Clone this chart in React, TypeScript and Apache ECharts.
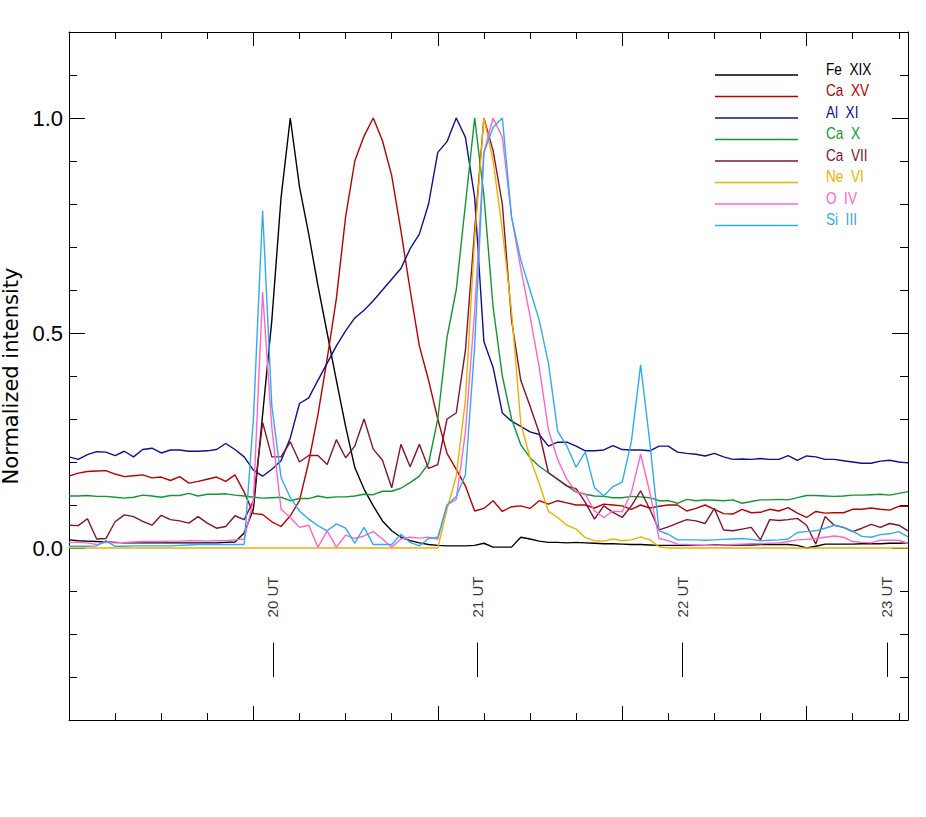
import React, { useEffect, useRef } from 'react';
import * as echarts from 'echarts';

// Sample index (time steps) along the x axis
const sampleIndex: number[] = Array.from({ length: 92 }, (_, i) => i);

const seriesNames = ['Fe XIX', 'Ca XV', 'Al XI', 'Ca X', 'Ca VII', 'Ne VI', 'O IV', 'Si III'];
const seriesColors = ['#000000', '#b80000', '#10108c', '#129632', '#82142e', '#f0b000', '#ff66cc', '#30aaf5'];

const feXIX = [0.019, 0.017, 0.016, 0.015, 0.014, 0.013, 0.012, 0.012, 0.012, 0.012, 0.012, 0.012, 0.012, 0.012, 0.012, 0.012, 0.012, 0.013, 0.014, 0.035,
  0.09, 0.31, 0.53, 0.815, 1.0, 0.84, 0.73, 0.61, 0.5, 0.39, 0.283, 0.187, 0.137, 0.098, 0.063, 0.04, 0.025, 0.017, 0.012, 0.008,
  0.006, 0.005, 0.005, 0.005, 0.006, 0.011, 0.002, 0.002, 0.002, 0.025, 0.021, 0.016, 0.013, 0.013, 0.012, 0.013, 0.012, 0.011, 0.01, 0.01,
  0.009, 0.008, 0.008, 0.007, 0.006, 0.006, 0.006, 0.006, 0.006, 0.006, 0.007, 0.007, 0.007, 0.007, 0.007, 0.008, 0.008, 0.008, 0.008, 0.006,
  0.0, 0.004, 0.009, 0.009, 0.009, 0.009, 0.01, 0.01, 0.01, 0.011, 0.011, 0.012];

const caXV = [0.167, 0.174, 0.178, 0.179, 0.18, 0.172, 0.166, 0.168, 0.17, 0.163, 0.165, 0.157, 0.166, 0.151, 0.155, 0.16, 0.165, 0.155, 0.17, 0.13,
  0.08, 0.078, 0.061, 0.05, 0.075, 0.11, 0.2, 0.31, 0.44, 0.58, 0.77, 0.9, 0.958, 1.0, 0.947, 0.866, 0.738, 0.6, 0.47, 0.39,
  0.3, 0.22, 0.183, 0.144, 0.086, 0.092, 0.11, 0.085, 0.096, 0.098, 0.092, 0.11, 0.102, 0.11, 0.105, 0.1, 0.1, 0.093, 0.102, 0.1,
  0.098, 0.09, 0.1, 0.093, 0.097, 0.1, 0.1, 0.086, 0.092, 0.1, 0.09, 0.08, 0.079, 0.09, 0.082, 0.083, 0.09, 0.086, 0.094, 0.081,
  0.071, 0.085, 0.081, 0.082, 0.082, 0.09, 0.09, 0.093, 0.09, 0.088, 0.097, 0.097];

const alXI = [0.212, 0.206, 0.217, 0.224, 0.223, 0.215, 0.225, 0.212, 0.229, 0.232, 0.221, 0.228, 0.228, 0.225, 0.225, 0.226, 0.229, 0.243, 0.229, 0.212,
  0.181, 0.167, 0.183, 0.203, 0.256, 0.336, 0.349, 0.39, 0.43, 0.47, 0.505, 0.535, 0.553, 0.575, 0.6, 0.625, 0.65, 0.696, 0.73, 0.8,
  0.92, 0.945, 1.0, 0.955, 0.815, 0.48, 0.42, 0.314, 0.295, 0.283, 0.27, 0.264, 0.237, 0.246, 0.246, 0.237, 0.226, 0.226, 0.228, 0.238,
  0.229, 0.228, 0.228, 0.226, 0.237, 0.237, 0.223, 0.22, 0.218, 0.214, 0.22, 0.212, 0.206, 0.207, 0.206, 0.208, 0.206, 0.206, 0.215, 0.204,
  0.214, 0.212, 0.206, 0.206, 0.203, 0.2, 0.197, 0.197, 0.202, 0.204, 0.2, 0.198];

const caX = [0.121, 0.121, 0.122, 0.12, 0.12, 0.118, 0.116, 0.118, 0.123, 0.121, 0.118, 0.122, 0.122, 0.127, 0.121, 0.125, 0.125, 0.126, 0.123, 0.121,
  0.118, 0.116, 0.117, 0.118, 0.11, 0.115, 0.115, 0.121, 0.117, 0.119, 0.119, 0.121, 0.125, 0.124, 0.132, 0.132, 0.139, 0.152, 0.167, 0.197,
  0.3, 0.49, 0.6, 0.8, 1.0, 0.82, 0.56, 0.4, 0.3, 0.24, 0.21, 0.19, 0.175, 0.16, 0.145, 0.13, 0.125, 0.121, 0.12, 0.117,
  0.117, 0.12, 0.119, 0.117, 0.11, 0.11, 0.104, 0.113, 0.11, 0.112, 0.111, 0.11, 0.112, 0.104, 0.108, 0.112, 0.112, 0.113, 0.112, 0.117,
  0.122, 0.122, 0.121, 0.12, 0.121, 0.123, 0.123, 0.124, 0.125, 0.123, 0.127, 0.131];

const caVII = [0.053, 0.052, 0.068, 0.021, 0.022, 0.061, 0.077, 0.073, 0.062, 0.053, 0.076, 0.066, 0.063, 0.058, 0.073, 0.058, 0.046, 0.05, 0.075, 0.066,
  0.11, 0.292, 0.212, 0.212, 0.247, 0.2, 0.215, 0.215, 0.194, 0.252, 0.21, 0.237, 0.3, 0.23, 0.204, 0.14, 0.241, 0.189, 0.241, 0.185,
  0.194, 0.3, 0.314, 0.46, 0.74, 1.0, 0.924, 0.8, 0.53, 0.39, 0.33, 0.268, 0.175, 0.16, 0.144, 0.138, 0.106, 0.067, 0.098, 0.083,
  0.071, 0.098, 0.133, 0.09, 0.042, 0.049, 0.058, 0.066, 0.063, 0.057, 0.092, 0.042, 0.04, 0.044, 0.048, 0.019, 0.066, 0.064, 0.066, 0.069,
  0.053, 0.009, 0.073, 0.053, 0.048, 0.038, 0.046, 0.055, 0.048, 0.057, 0.053, 0.04];

const neVI = [0, 0, 0, 0, 0, 0, 0, 0, 0, 0, 0, 0, 0, 0, 0, 0, 0, 0, 0, 0,
  0, 0, 0, 0, 0, 0, 0, 0, 0, 0, 0, 0, 0, 0, 0, 0, 0, 0, 0, 0,
  0.0, 0.09, 0.167, 0.345, 0.72, 1.0, 0.9, 0.74, 0.55, 0.29, 0.21, 0.15, 0.085, 0.071, 0.053, 0.044, 0.024, 0.017, 0.016, 0.021,
  0.017, 0.019, 0.026, 0.019, 0.003, 0, 0, 0, 0, 0, 0, 0, 0, 0, 0, 0, 0, 0, 0, 0,
  0, 0, 0, 0, 0, 0, 0, 0, 0, 0, 0, 0];

const oIV = [0.013, 0.013, 0.012, 0.008, 0.013, 0.012, 0.013, 0.014, 0.015, 0.015, 0.015, 0.016, 0.016, 0.017, 0.017, 0.016, 0.017, 0.017, 0.019, 0.021,
  0.11, 0.595, 0.28, 0.09, 0.071, 0.048, 0.053, 0.002, 0.04, 0.002, 0.03, 0.022, 0.028, 0.038, 0.021, 0.002, 0.021, 0.025, 0.023, 0.025,
  0.02, 0.1, 0.113, 0.27, 0.55, 0.92, 1.0, 0.955, 0.77, 0.65, 0.54, 0.42, 0.275, 0.206, 0.16, 0.13, 0.125, 0.086, 0.071, 0.086,
  0.084, 0.129, 0.218, 0.129, 0.022, 0.017, 0.009, 0.008, 0.007, 0.006, 0.006, 0.007, 0.008, 0.009, 0.01, 0.01, 0.011, 0.012, 0.015, 0.019,
  0.02, 0.022, 0.025, 0.028, 0.025, 0.015, 0.013, 0.012, 0.018, 0.018, 0.018, 0.011];

const siIII = [0.004, 0.004, 0.004, 0.005, 0.017, 0.004, 0.004, 0.005, 0.005, 0.005, 0.005, 0.005, 0.006, 0.007, 0.008, 0.008, 0.008, 0.008, 0.008, 0.008,
  0.3, 0.785, 0.33, 0.164, 0.117, 0.086, 0.067, 0.052, 0.04, 0.056, 0.046, 0.011, 0.048, 0.008, 0.008, 0.008, 0.032, 0.013, 0.005, 0.022,
  0.025, 0.1, 0.12, 0.171, 0.47, 0.92, 0.978, 1.0, 0.77, 0.67, 0.6, 0.53, 0.43, 0.272, 0.237, 0.188, 0.223, 0.14, 0.121, 0.143,
  0.153, 0.248, 0.426, 0.245, 0.04, 0.032, 0.019, 0.019, 0.019, 0.018, 0.019, 0.02, 0.021, 0.022, 0.02, 0.017, 0.018, 0.019, 0.021, 0.036,
  0.038, 0.04, 0.046, 0.053, 0.048, 0.039, 0.027, 0.025, 0.031, 0.033, 0.038, 0.026];

const seriesValues = [feXIX, caXV, alXI, caX, caVII, neVI, oIV, siIII];

// UT hour markers (in sample-index units)
const utPositions = [22.1, 44.3, 66.5, 88.7];
const utLabels = ['20 UT', '21 UT', '22 UT', '23 UT'];

// Y-axis tick values
const yMajorTicks = [0, 0.5, 1.0];
// X-axis major tick values
const xMajorTicks = [20, 40, 60, 80];

const SANS = "'Liberation Sans', Arial, sans-serif";

export default function App() {
  const ref = useRef<HTMLDivElement>(null);

  useEffect(() => {
    if (!ref.current) return;
    const chart = echarts.init(ref.current, undefined, { renderer: 'svg' });

    const xBase = (position: 'bottom' | 'top', major: boolean) => ({
      type: 'value',
      position,
      min: 0,
      max: 91,
      interval: major ? 20 : 5,
      axisLine: { show: !major, onZero: false, lineStyle: { color: '#000', width: 1 } },
      axisTick: major
        ? { show: true, inside: true, length: 14, customValues: xMajorTicks, lineStyle: { color: '#000', width: 1 } }
        : { show: true, inside: true, length: 7, lineStyle: { color: '#000', width: 1 } },
      axisLabel: { show: false },
      splitLine: { show: false },
    });

    const yBase = (position: 'left' | 'right', major: boolean, labels: boolean) => ({
      type: 'value',
      position,
      min: -0.4,
      max: 1.2,
      interval: 0.1,
      axisLine: { show: !major, onZero: false, lineStyle: { color: '#000', width: 1 } },
      axisTick: major
        ? { show: true, inside: true, length: 16, customValues: yMajorTicks, lineStyle: { color: '#000', width: 1 } }
        : { show: true, inside: true, length: 8, lineStyle: { color: '#000', width: 1 } },
      axisLabel: labels
        ? {
            show: true,
            customValues: yMajorTicks,
            formatter: (v: number) => v.toFixed(1),
            color: '#000',
            fontSize: 22,
            fontFamily: SANS,
            margin: 6,
          }
        : { show: false },
      splitLine: { show: false },
      ...(labels
        ? {
            name: 'Normalized intensity',
            nameLocation: 'middle',
            nameGap: 43,
            nameTextStyle: { color: '#000', fontSize: 21, fontFamily: "'DejaVu Sans', sans-serif" },
          }
        : {}),
    });

    const lineSeries = seriesNames.map((name, k) => ({
      name,
      type: 'line',
      xAxisIndex: 0,
      yAxisIndex: 0,
      data: seriesValues[k].map((v, i) => [sampleIndex[i], v]),
      showSymbol: false,
      symbol: 'none',
      lineStyle: { color: seriesColors[k], width: 1.4 },
      itemStyle: { color: seriesColors[k] },
      emphasis: { disabled: true },
      silent: true,
      clip: true,
    }));

    const utSeries = {
      name: 'UT',
      type: 'scatter',
      xAxisIndex: 0,
      yAxisIndex: 0,
      symbolSize: 1,
      itemStyle: { color: 'rgba(0,0,0,0)' },
      silent: true,
      data: utPositions.map((x) => [x, -0.1]),
      label: {
        show: true,
        rotate: 90,
        position: 'inside',
        offset: [-6, 0],
        formatter: (p: any) => utLabels[p.dataIndex],
        color: '#000',
        fontSize: 15,
        fontFamily: SANS,
      },
      markLine: {
        silent: true,
        symbol: ['none', 'none'],
        label: { show: false },
        lineStyle: { color: '#000', width: 1, type: 'solid' },
        data: utPositions.map((x) => [{ coord: [x, -0.22] }, { coord: [x, -0.3] }]),
      },
    };

    const legendGraphics: any[] = [];
    seriesNames.forEach((name, k) => {
      const y = 75 + k * 21.5;
      legendGraphics.push({
        type: 'line',
        shape: { x1: 715, y1: y, x2: 798, y2: y },
        style: { stroke: seriesColors[k], lineWidth: 1.4 },
        silent: true,
      });
      legendGraphics.push({
        type: 'text',
        x: 826,
        y: y - 5.5,
        scaleX: 0.85,
        style: {
          text: name.replace(' ', '  '),
          fill: seriesColors[k],
          fontSize: 16,
          fontFamily: SANS,
          verticalAlign: 'middle',
          align: 'left',
        },
        silent: true,
      });
    });

    chart.setOption({
      animation: false,
      backgroundColor: '#fff',
      grid: { left: 69, right: 18, top: 32, bottom: 97, containLabel: false, outerBoundsMode: 'none' },
      xAxis: [xBase('bottom', false), xBase('bottom', true), xBase('top', false), xBase('top', true)],
      yAxis: [yBase('left', false, false), yBase('left', true, true), yBase('right', false, false), yBase('right', true, false)],
      series: [...lineSeries, utSeries],
      graphic: legendGraphics,
    });

    return () => chart.dispose();
  }, []);

  return (
    <div
      ref={ref}
      style={{ position: 'fixed', left: 0, top: 0, width: 926, height: 817, background: '#fff' }}
    />
  );
}
